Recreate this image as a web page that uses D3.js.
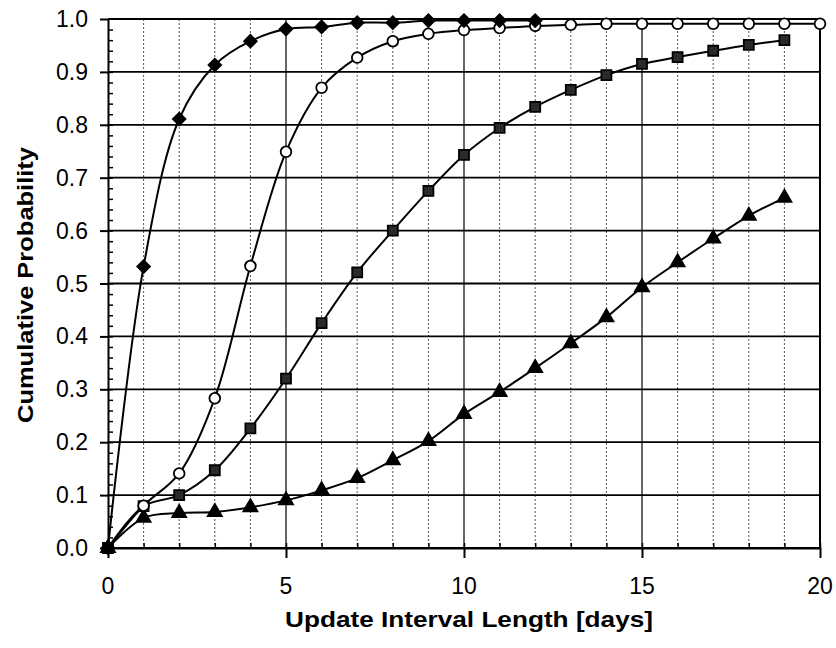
<!DOCTYPE html>
<html>
    <head>
        <meta charset="utf-8">
        <title>Update Interval CDF</title>
        <script src="https://d3js.org/d3.v7.min.js"></script>
	<style>
	  body { margin:0; background:#fff; }
	  text { font-family: "Liberation Sans", Arial, sans-serif; fill:#000; }
	  .tickLabel { font-size:23px; }
	  .axisTitle { font-size:22px; font-weight:bold; }
	</style>
    </head>
    <body>
      <svg width="836" height="648"></svg>
      <script type="text/javascript">
	// data
	var days = d3.range(0, 21);
	var xTickLabels = [0, 5, 10, 15, 20];
	var yTickLabels = [0, 0.1, 0.2, 0.3, 0.4, 0.5, 0.6, 0.7, 0.8, 0.9, 1.0];

	var diamondVals = [0, 0.532, 0.811, 0.913, 0.958, 0.981, 0.985, 0.993, 0.993, 0.997, 0.997, 0.997, 0.997];
	var circleVals = [0, 0.08, 0.141, 0.283, 0.533, 0.749, 0.87, 0.927, 0.958, 0.972, 0.979, 0.983, 0.987,
	                  0.989, 0.991, 0.991, 0.991, 0.991, 0.991, 0.991, 0.991];
	var squareVals = [0, 0.079, 0.1, 0.147, 0.226, 0.32, 0.425, 0.521, 0.6, 0.675, 0.743, 0.794, 0.834,
	                  0.866, 0.894, 0.915, 0.928, 0.94, 0.951, 0.96];
	var triangleVals = [0, 0.057, 0.066, 0.068, 0.077, 0.09, 0.109, 0.132, 0.166, 0.202, 0.253, 0.295, 0.34,
	                    0.387, 0.436, 0.493, 0.54, 0.585, 0.628, 0.662];

	var plotLeft = 108, plotRight = 820, plotTop = 19, plotBottom = 548;

	var xScale = d3.scaleLinear().domain([0, 20]).range([plotLeft, plotRight]);
	var yScale = d3.scaleLinear().domain([0, 1]).range([plotBottom, plotTop]);

	var svg = d3.select("svg");

	// vertical grid: dotted every day, solid every 5
	svg.append("g")
	  .selectAll("line")
	  .data(days.filter(d => d > 0 && d < 20))
	  .enter()
	  .append("line")
	  .attr("x1", d => xScale(d)).attr("x2", d => xScale(d))
	  .attr("y1", plotTop).attr("y2", plotBottom)
	  .attr("stroke", d => d % 5 == 0 ? "#000" : "#555")
	  .attr("stroke-width", d => d % 5 == 0 ? 1.2 : 1)
	  .attr("stroke-dasharray", d => d % 5 == 0 ? null : "2,2");

	// horizontal grid
	svg.append("g")
	  .selectAll("line")
	  .data(yTickLabels)
	  .enter()
	  .append("line")
	  .attr("x1", plotLeft).attr("x2", plotRight)
	  .attr("y1", d => yScale(d)).attr("y2", d => yScale(d))
	  .attr("stroke", "#000")
	  .attr("stroke-width", 1.8);

	// right border
	svg.append("line")
	  .attr("x1", plotRight).attr("x2", plotRight).attr("y1", plotTop).attr("y2", plotBottom)
	  .attr("stroke", "#000").attr("stroke-width", 2);

	// y axis: major ticks outside, minor ticks inside
	var yAxis = d3.axisLeft(yScale).tickValues(yTickLabels).tickSize(8).tickSizeOuter(0).tickFormat("");
	svg.append("g").attr("transform", "translate(" + plotLeft + ",0)").call(yAxis)
	  .call(g => g.selectAll("line,path").attr("stroke", "#000").attr("stroke-width", 2));
	var yMinor = d3.axisRight(yScale).tickValues(d3.range(0, 50).map(i => i * 0.02)).tickSize(5).tickFormat("");
	svg.append("g").attr("transform", "translate(" + plotLeft + ",0)").call(yMinor)
	  .call(g => g.select(".domain").remove())
	  .call(g => g.selectAll("line").attr("stroke", "#000").attr("stroke-width", 1.5));

	svg.append("g")
	  .selectAll("text")
	  .data(yTickLabels)
	  .enter()
	  .append("text")
	  .attr("class", "tickLabel")
	  .attr("x", 88)
	  .attr("y", d => yScale(d) + 8)
	  .attr("text-anchor", "end")
	  .text(d => d3.format(".1f")(d));

	// x axis
	var xAxis = d3.axisBottom(xScale).tickValues(xTickLabels).tickSize(10).tickSizeOuter(0).tickFormat("");
	svg.append("g").attr("transform", "translate(0," + plotBottom + ")").call(xAxis)
	  .call(g => g.selectAll("line,path").attr("stroke", "#000").attr("stroke-width", 2));
	var xMinor = d3.axisTop(xScale).tickValues(days).tickSize(5).tickFormat("");
	svg.append("g").attr("transform", "translate(0," + plotBottom + ")").call(xMinor)
	  .call(g => g.select(".domain").remove())
	  .call(g => g.selectAll("line").attr("stroke", "#000").attr("stroke-width", 1.5));

	svg.append("g")
	  .selectAll("text")
	  .data(xTickLabels)
	  .enter()
	  .append("text")
	  .attr("class", "tickLabel")
	  .attr("x", d => xScale(d))
	  .attr("y", 594)
	  .attr("text-anchor", "middle")
	  .text(d => d);

	// axis titles
	svg.append("text")
	  .attr("class", "axisTitle")
	  .attr("x", 469).attr("y", 627)
	  .attr("text-anchor", "middle")
	  .attr("textLength", 368).attr("lengthAdjust", "spacingAndGlyphs")
	  .text("Update Interval Length [days]");

	svg.append("text")
	  .attr("class", "axisTitle")
	  .attr("transform", "translate(33,285) rotate(-90)")
	  .attr("text-anchor", "middle")
	  .attr("textLength", 276).attr("lengthAdjust", "spacingAndGlyphs")
	  .text("Cumulative Probability");

	// series
	var line = d3.line()
	  .x((d, i) => xScale(days[i]))
	  .y(d => yScale(d))
	  .curve(d3.curveCatmullRom);

	// rot: 45 turns the square into an even diamond
	var series = [
	  {vals: triangleVals, shape: d3.symbolTriangle, size: 85, fill: "#000", rot: 0},
	  {vals: squareVals, shape: d3.symbolSquare, size: 100, fill: "#2a2a2a", rot: 0},
	  {vals: circleVals, shape: d3.symbolCircle, size: 90, fill: "#fff", rot: 0},
	  {vals: diamondVals, shape: d3.symbolSquare, size: 80, fill: "#000", rot: 45}
	];

	series.forEach(function(s) {
	  svg.append("path")
	    .attr("d", line(s.vals))
	    .attr("fill", "none")
	    .attr("stroke", "#000")
	    .attr("stroke-width", 2);

	  svg.append("g")
	    .selectAll("path")
	    .data(s.vals)
	    .enter()
	    .append("path")
	    .attr("d", d3.symbol().type(s.shape).size(s.size))
	    .attr("transform", (d, i) => "translate(" + xScale(days[i]) + "," + yScale(d) + ") rotate(" + s.rot + ")")
	    .attr("fill", s.fill)
	    .attr("stroke", "#000")
	    .attr("stroke-width", 1.8);
	});
      </script>
    </body>
</html>
